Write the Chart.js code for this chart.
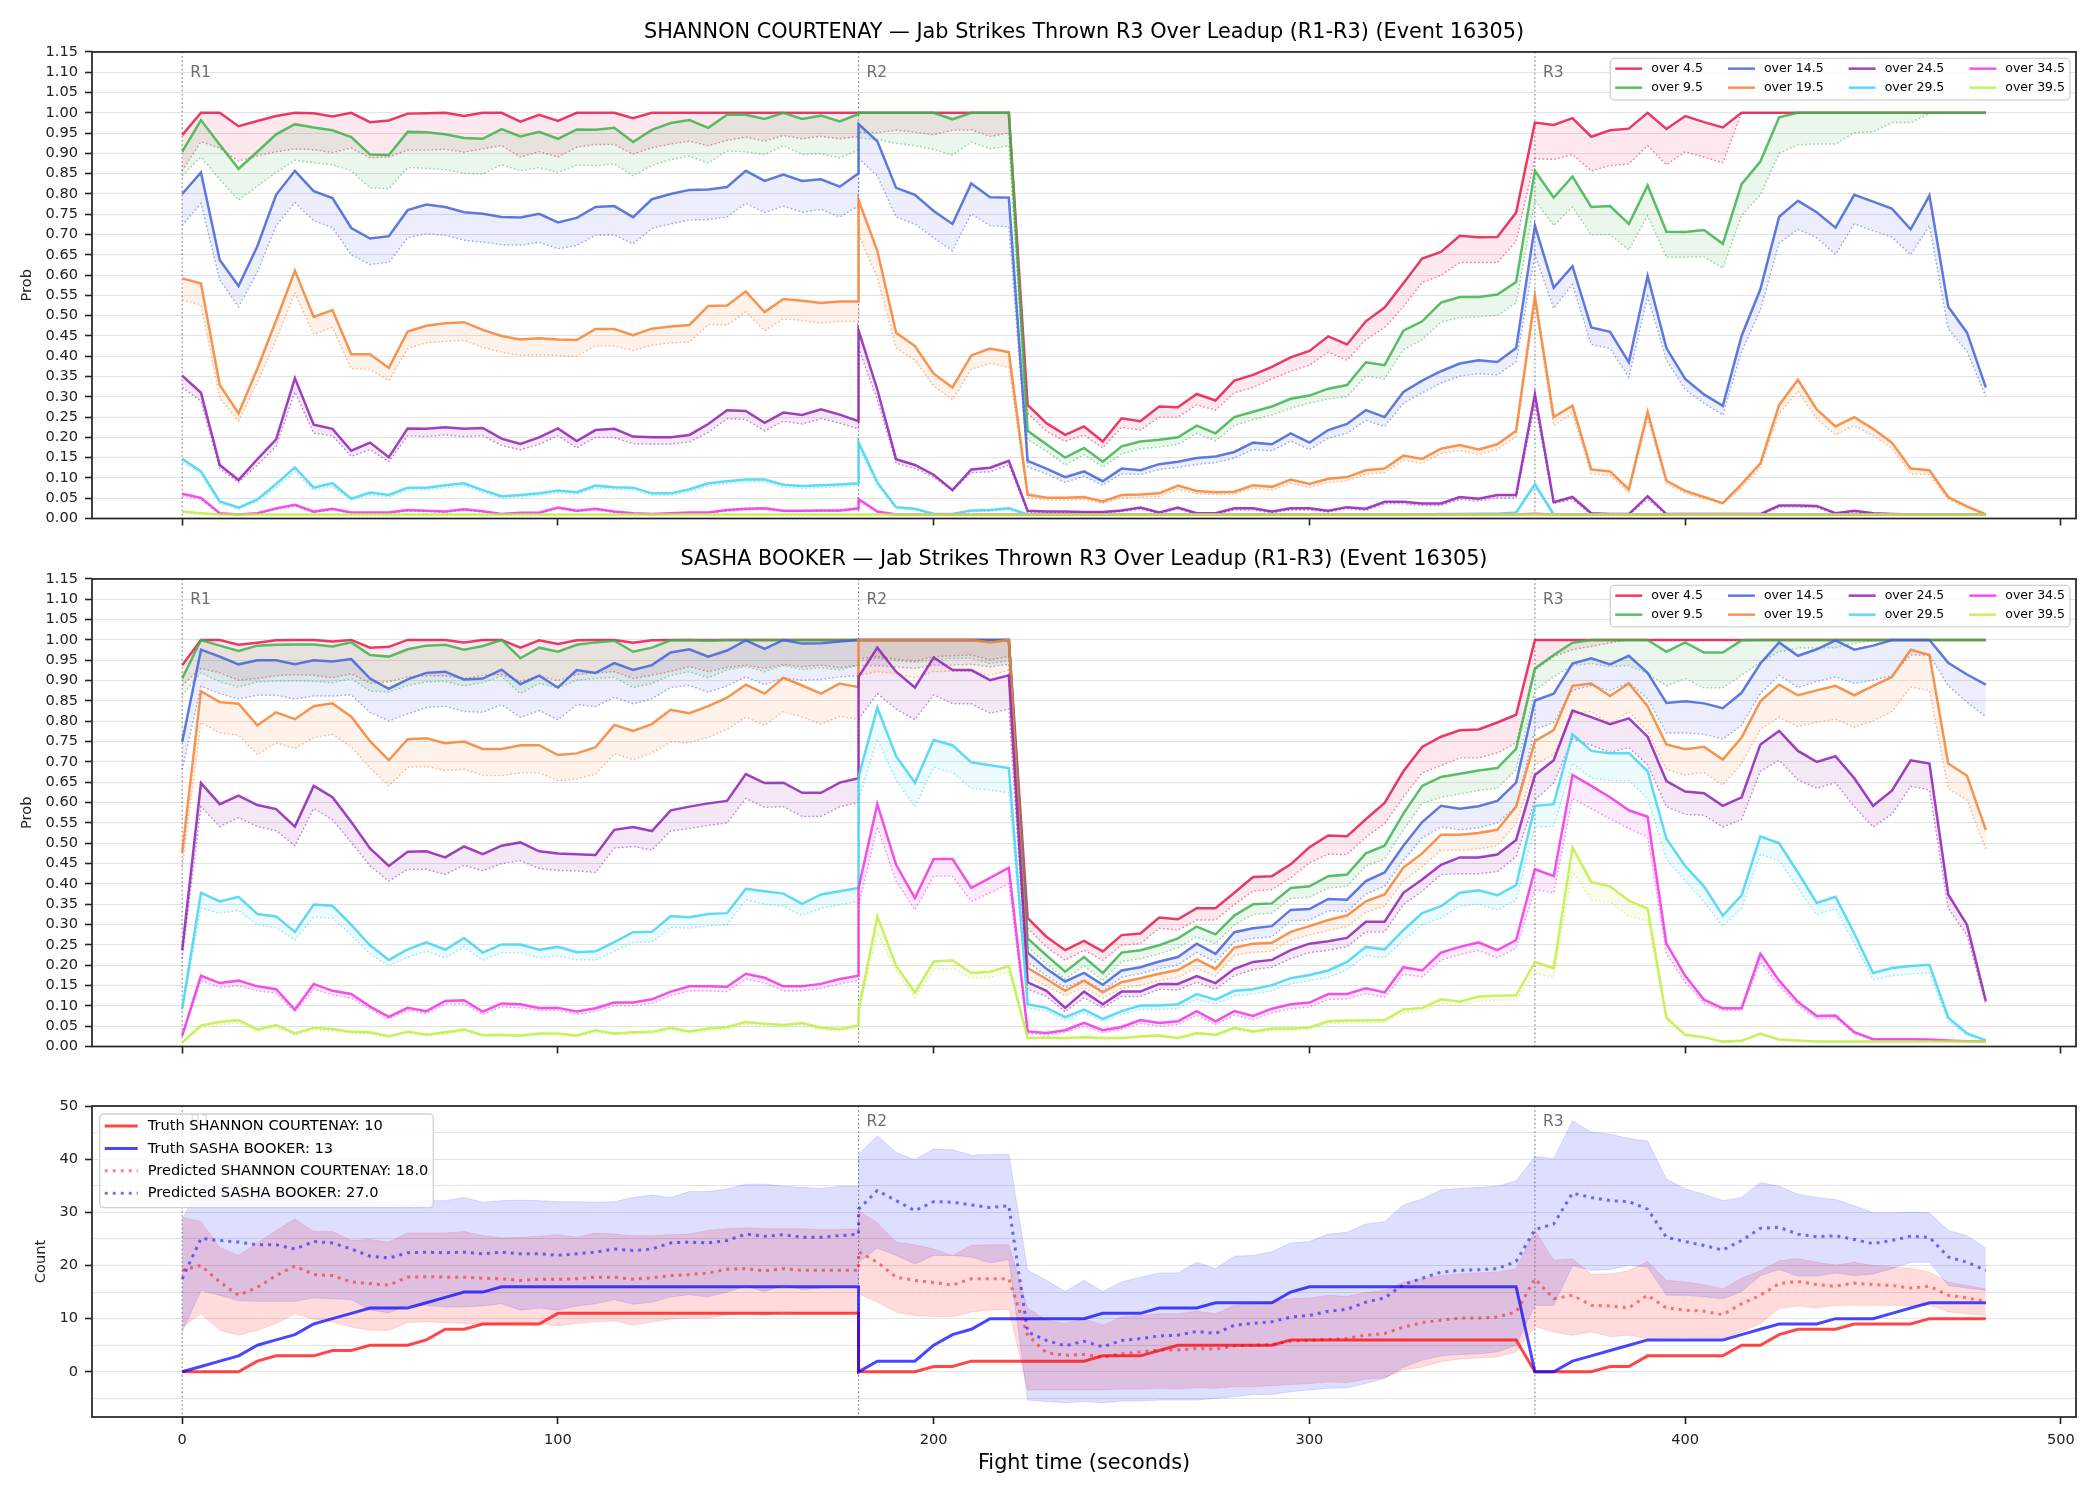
<!DOCTYPE html>
<html>
<head>
<meta charset="utf-8">
<title>Jab Strikes Thrown R3 Over Leadup</title>
<script src="https://cdn.jsdelivr.net/npm/chart.js@4.4.1/dist/chart.umd.min.js"></script>
<style>
  body { margin: 0; background: #fff; }
  canvas { position: absolute; left: 0; }
</style>
</head>
<body>
<canvas id="shannonChart" width="2100" height="541" style="top:0px"></canvas>
<canvas id="sashaChart" width="2100" height="542" style="top:527px"></canvas>
<canvas id="countChart" width="2100" height="410" style="top:1090px"></canvas>
<script>
// fight time in seconds (R1 | R2 | R3, R2 restarts at 180)
const times = [
  0,5,10,15,20,25,30,35,40,45,50,55,60,65,70,75,80,85,90,95,100,105,110,115,120,125,130,135,140,145,150,155,160,165,170,175,180,
  180,185,190,195,200,205,210,215,220,225,230,235,240,245,250,255,260,265,270,275,280,285,290,295,300,305,310,315,320,325,330,335,340,345,350,355,
  360,365,370,375,380,385,390,395,400,405,410,415,420,425,430,435,440,445,450,455,460,465,470,475,480
];
const thresholds = ['over 4.5', 'over 9.5', 'over 14.5', 'over 19.5', 'over 24.5', 'over 29.5', 'over 34.5', 'over 39.5'];
const palette = ['#e6194b', '#3cb44b', '#4363d8', '#f58231', '#911eb4', '#42d4f4', '#f032e6', '#bfef45'];
const roundStarts = [0, 180, 360];
const roundLabels = ['R1', 'R2', 'R3'];
const xTicks = [0, 100, 200, 300, 400, 500];
const probTicks = [0, 0.05, 0.1, 0.15, 0.2, 0.25, 0.3, 0.35, 0.4, 0.45, 0.5, 0.55, 0.6, 0.65, 0.7, 0.75, 0.8, 0.85, 0.9, 0.95, 1, 1.05, 1.1, 1.15];
const countTicks = [-5, 0, 5, 10, 15, 20, 25, 30, 35, 40, 45, 50];

// ---- SHANNON COURTENAY: solid lines and dotted lines
const shO45 = [
  .945,1,1,.967,.98,.992,1,.999,.991,1,.977,.981,.998,.999,1,.992,1,1,.978,.995,.98,1,1,1,.987,1,1,1,1,1,1,1,1,1,1,1,1,
  1,1,1,1,1,1,1,1,1,.28,.235,.206,.227,.19,.247,.24,.276,.274,.307,.291,.34,.354,.374,.397,.413,.449,.429,.486,.52,.58,.641,.657,.697,.693,.694,.754,
  .976,.97,.987,.941,.957,.961,1,.96,.992,.977,.964,1,1,1,1,1,1,1,1,1,1,1,1,1,1
];
const shO45d = [
  .857,.929,.913,.881,.894,.904,.911,.909,.902,.913,.889,.891,.908,.908,.91,.903,.911,.919,.891,.904,.891,.915,.922,.922,.898,.914,.923,.93,.919,.932,.94,.93,.944,.936,.942,.936,.942,
  .952,.951,.957,.952,.946,.957,.958,.942,.95,.26,.215,.19,.206,.174,.225,.218,.25,.25,.28,.267,.31,.323,.344,.363,.378,.41,.39,.441,.471,.522,.582,.599,.631,.631,.631,.683,
  .887,.885,.897,.857,.87,.874,.919,.872,.904,.891,.877,1,1,1,1,1,1,1,1,1,1,1,1,1,1
];
const shO95 = [
  .904,.982,.921,.862,.904,.947,.972,.964,.957,.94,.897,.896,.953,.952,.947,.938,.936,.96,.942,.953,.936,.959,.958,.963,.928,.958,.975,.982,.963,.995,.995,.985,1,.985,.993,.979,.997,
  1,1,1,1,1,.984,1,1,1,.216,.183,.15,.174,.14,.178,.19,.194,.2,.229,.21,.25,.263,.276,.295,.303,.32,.329,.385,.378,.463,.486,.532,.546,.546,.552,.583,
  .857,.791,.843,.768,.77,.726,.821,.707,.706,.711,.677,.824,.88,.989,1,1,1,1,1,1,1,1,1,1,1
];
const shO95d = [
  .845,.891,.836,.785,.819,.853,.883,.877,.872,.857,.815,.813,.865,.863,.86,.851,.849,.872,.857,.865,.853,.871,.87,.874,.845,.87,.885,.893,.876,.906,.904,.897,.919,.897,.899,.889,.908,
  .938,.934,.925,.919,.91,.896,.928,.911,.919,.195,.166,.132,.157,.127,.159,.172,.176,.183,.21,.191,.229,.244,.255,.272,.284,.295,.3,.351,.344,.416,.441,.484,.495,.497,.501,.531,
  .785,.722,.768,.699,.7,.662,.747,.644,.644,.645,.617,.747,.798,.9,.921,.923,.923,.951,.953,.976,.976,.998,1,1,1
];
const shO145 = [
  .8,.853,.637,.573,.671,.798,.857,.807,.79,.716,.69,.696,.76,.774,.768,.755,.751,.743,.742,.751,.73,.741,.768,.77,.743,.787,.8,.81,.811,.817,.857,.832,.848,.832,.836,.818,.851,
  .972,.93,.815,.798,.758,.726,.826,.792,.791,.142,.123,.102,.116,.092,.123,.119,.134,.14,.149,.153,.164,.187,.183,.21,.187,.218,.233,.267,.25,.312,.34,.363,.382,.39,.386,.42,
  .722,.569,.622,.471,.46,.385,.598,.42,.344,.306,.278,.45,.565,.744,.783,.755,.717,.798,.781,.764,.713,.796,.522,.458,.323
];
const shO145d = [
  .722,.777,.588,.522,.607,.722,.779,.734,.717,.65,.626,.631,.692,.702,.698,.686,.681,.675,.674,.681,.665,.673,.698,.699,.677,.715,.726,.736,.737,.743,.777,.754,.77,.755,.762,.743,.77,
  .887,.845,.743,.726,.692,.66,.751,.722,.719,.127,.11,.089,.104,.082,.11,.108,.121,.126,.133,.138,.149,.17,.167,.191,.17,.198,.21,.242,.227,.284,.31,.334,.351,.357,.354,.386,
  .65,.518,.577,.429,.419,.348,.548,.391,.318,.284,.255,.412,.514,.679,.713,.692,.651,.726,.709,.694,.65,.722,.467,.412,.301
];
const shO195 = [
  .592,.579,.329,.259,.369,.488,.611,.497,.514,.405,.405,.371,.461,.475,.481,.484,.465,.45,.441,.444,.441,.44,.467,.467,.452,.468,.473,.477,.524,.525,.56,.509,.541,.537,.531,.535,.535,
  .785,.66,.458,.425,.357,.323,.402,.419,.41,.059,.051,.051,.053,.042,.058,.059,.062,.081,.068,.065,.066,.082,.078,.096,.085,.098,.102,.119,.123,.155,.147,.172,.181,.17,.183,.216,
  .548,.25,.278,.121,.116,.072,.263,.093,.068,.053,.038,.085,.136,.28,.342,.269,.227,.25,.221,.187,.123,.119,.053,.03,.01
];
const shO195d = [
  .539,.526,.297,.24,.335,.441,.556,.454,.471,.369,.368,.34,.419,.433,.437,.439,.422,.41,.402,.403,.402,.4,.426,.425,.414,.427,.433,.435,.478,.477,.509,.463,.492,.488,.482,.486,.486,
  .7,.594,.42,.39,.327,.293,.368,.382,.373,.051,.045,.045,.047,.037,.051,.052,.054,.072,.061,.059,.06,.075,.07,.087,.077,.089,.093,.109,.113,.144,.136,.16,.168,.157,.17,.201,
  .531,.229,.259,.11,.106,.065,.246,.085,.062,.049,.036,.076,.125,.259,.314,.246,.206,.229,.204,.174,.11,.108,.047,.027,.008
];
const shO245 = [
  .352,.31,.132,.095,.146,.195,.346,.231,.221,.167,.187,.151,.222,.221,.225,.221,.223,.197,.184,.2,.222,.191,.218,.221,.202,.2,.2,.206,.233,.267,.265,.236,.261,.255,.269,.256,.24,
  .464,.318,.146,.132,.108,.07,.121,.125,.142,.019,.017,.017,.016,.016,.02,.027,.015,.027,.013,.013,.025,.025,.017,.025,.025,.019,.028,.024,.041,.041,.037,.037,.053,.049,.058,.058,
  .306,.04,.053,.013,.011,.011,.055,.011,.011,.011,.011,.011,.011,.032,.032,.031,.013,.019,.013,.011,.01,.01,.01,.01,.01
];
const shO245d = [
  .323,.289,.123,.089,.132,.178,.312,.21,.204,.153,.17,.14,.204,.202,.206,.202,.204,.18,.169,.183,.204,.174,.2,.2,.184,.183,.183,.189,.212,.246,.244,.216,.24,.233,.246,.235,.221,
  .42,.293,.136,.123,.102,.068,.113,.115,.132,.015,.014,.014,.013,.013,.017,.023,.012,.023,.01,.01,.021,.021,.014,.021,.021,.016,.024,.02,.036,.036,.032,.032,.047,.043,.051,.051,
  .28,.037,.047,.01,.009,.009,.047,.009,.009,.009,.009,.009,.009,.028,.028,.027,.011,.016,.011,.009,.008,.008,.008,.008,.008
];
const shO295 = [
  .147,.116,.042,.027,.047,.085,.126,.076,.087,.049,.064,.058,.076,.076,.082,.087,.07,.055,.058,.062,.069,.065,.081,.077,.076,.062,.062,.072,.087,.092,.096,.096,.083,.08,.082,.084,.087,
  .188,.089,.028,.024,.012,.011,.02,.021,.025,.01,.01,.01,.01,.01,.01,.01,.01,.01,.01,.01,.01,.01,.01,.01,.01,.01,.01,.01,.01,.01,.01,.011,.011,.012,.012,.015,
  .085,.01,.01,.01,.01,.01,.01,.01,.01,.01,.01,.01,.01,.01,.01,.01,.01,.01,.01,.01,.01,.01,.01,.01,.01
];
const shO295d = [
  .138,.11,.038,.023,.042,.076,.115,.07,.079,.045,.058,.053,.07,.07,.076,.081,.064,.05,.053,.057,.063,.059,.075,.071,.07,.057,.057,.066,.081,.086,.09,.09,.077,.074,.076,.078,.081,
  .175,.082,.025,.021,.01,.009,.017,.018,.022,.008,.008,.008,.008,.008,.008,.008,.008,.008,.008,.008,.008,.008,.008,.008,.008,.008,.008,.008,.008,.008,.008,.009,.009,.01,.01,.012,
  .078,.008,.008,.008,.008,.008,.008,.008,.008,.008,.008,.008,.008,.008,.008,.008,.008,.008,.008,.008,.008,.008,.008,.008,.008
];
const shO345 = [
  .061,.051,.013,.01,.013,.025,.034,.017,.024,.015,.015,.015,.021,.019,.017,.023,.018,.011,.014,.014,.027,.019,.024,.017,.013,.011,.013,.015,.015,.021,.024,.025,.019,.019,.02,.02,.025,
  .048,.017,.01,.01,.01,.01,.01,.01,.01,.01,.01,.01,.01,.01,.01,.01,.01,.01,.01,.01,.01,.01,.01,.01,.01,.01,.01,.01,.01,.01,.01,.01,.01,.01,.01,.01,
  .012,.01,.01,.01,.01,.01,.01,.01,.01,.01,.01,.01,.01,.01,.01,.01,.01,.01,.01,.01,.01,.01,.01,.01,.01
];
const shO345d = [
  .055,.047,.011,.008,.011,.022,.03,.015,.021,.013,.013,.013,.018,.017,.015,.02,.016,.009,.012,.012,.024,.017,.021,.015,.011,.009,.011,.013,.013,.018,.021,.022,.017,.017,.018,.018,.022,
  .043,.015,.008,.008,.008,.008,.008,.008,.008,.008,.008,.008,.008,.008,.008,.008,.008,.008,.008,.008,.008,.008,.008,.008,.008,.008,.008,.008,.008,.008,.008,.008,.008,.008,.008,.008,
  .01,.008,.008,.008,.008,.008,.008,.008,.008,.008,.008,.008,.008,.008,.008,.008,.008,.008,.008,.008,.008,.008,.008,.008,.008
];
const shO395 = [
  .017,.013,.01,.01,.01,.01,.01,.01,.01,.01,.01,.01,.01,.01,.01,.01,.01,.01,.01,.01,.01,.01,.01,.01,.01,.01,.01,.01,.01,.01,.01,.01,.01,.01,.01,.01,.01,
  .01,.01,.01,.01,.01,.01,.01,.01,.01,.01,.01,.01,.01,.01,.01,.01,.01,.01,.01,.01,.01,.01,.01,.01,.01,.01,.01,.01,.01,.01,.01,.01,.01,.01,.01,.01,
  .01,.01,.01,.01,.01,.01,.01,.01,.01,.01,.01,.01,.01,.01,.01,.01,.01,.01,.01,.01,.01,.01,.01,.01,.01
];
const shO395d = [
  .014,.011,.008,.008,.008,.008,.008,.008,.008,.008,.008,.008,.008,.008,.008,.008,.008,.008,.008,.008,.008,.008,.008,.008,.008,.008,.008,.008,.008,.008,.008,.008,.008,.008,.008,.008,.008,
  .008,.008,.008,.008,.008,.008,.008,.008,.008,.008,.008,.008,.008,.008,.008,.008,.008,.008,.008,.008,.008,.008,.008,.008,.008,.008,.008,.008,.008,.008,.008,.008,.008,.008,.008,.008,
  .008,.008,.008,.008,.008,.008,.008,.008,.008,.008,.008,.008,.008,.008,.008,.008,.008,.008,.008,.008,.008,.008,.008,.008,.008
];

// ---- SASHA BOOKER: solid lines and dotted lines
const sbO45 = [
  .938,1,1,.988,.993,.999,1,1,.996,1,.981,.983,1,1,1,.994,1,1,.981,.999,.99,.999,1,1,.993,.999,1,1,1,1,1,1,1,1,1,1,1,
  1,1,1,1,1,1,1,1,1,.316,.27,.237,.26,.234,.274,.278,.317,.313,.34,.34,.378,.417,.419,.448,.49,.519,.517,.559,.599,.677,.737,.762,.778,.78,.797,.816,
  1,1,1,1,1,1,1,1,1,1,1,1,1,1,1,1,1,1,1,1,1,1,1,1,1
];
const sbO45d = [
  .888,.93,.919,.901,.905,.912,.915,.913,.907,.917,.893,.897,.909,.912,.912,.905,.913,.915,.898,.911,.9,.915,.919,.922,.905,.913,.923,.934,.922,.932,.938,.93,.94,.934,.938,.932,.938,
  .953,.959,.953,.948,.959,.961,.963,.951,.959,.291,.245,.212,.237,.212,.249,.253,.291,.286,.311,.311,.349,.382,.386,.415,.452,.473,.472,.515,.548,.614,.673,.691,.71,.71,.722,.747,
  .926,.959,.976,.984,.993,1,1,1,1,1,1,1,1,1,1,1,1,1,1,1,1,1,1,1,1
];
const sbO95 = [
  .905,1,.986,.973,.986,.988,.989,.989,.984,.994,.963,.959,.977,.986,.988,.976,.985,1,.955,.981,.971,.988,.994,.998,.971,.981,.999,1,.998,1,1,1,1,1,1,1,1,
  1,1,1,1,1,1,1,1,1,.266,.224,.184,.22,.181,.231,.237,.249,.266,.295,.276,.322,.35,.352,.39,.394,.419,.423,.475,.494,.573,.641,.663,.671,.679,.685,.732,
  .93,.963,.993,1,1,1,1,.971,.994,.969,.969,.999,1,1,1,1,1,1,1,1,1,1,1,1,1
];
const sbO95d = [
  .864,.92,.897,.884,.897,.898,.899,.898,.895,.905,.874,.872,.888,.897,.898,.887,.895,.911,.868,.893,.882,.901,.905,.908,.883,.893,.913,.922,.907,.926,.935,.922,.937,.927,.932,.926,.938,
  .947,.955,.949,.945,.951,.955,.955,.942,.949,.245,.203,.166,.198,.162,.209,.216,.228,.243,.27,.253,.299,.325,.328,.364,.367,.39,.394,.444,.461,.533,.598,.613,.621,.63,.635,.681,
  .876,.909,.937,.942,.934,.937,.917,.887,.905,.882,.882,.913,.945,.971,.98,.98,.981,.992,.997,1,1,1,1,1,1
];
const sbO145 = [
  .749,.976,.959,.94,.95,.95,.94,.95,.947,.953,.905,.88,.903,.919,.922,.903,.905,.927,.891,.912,.883,.926,.919,.943,.926,.938,.969,.977,.959,.974,.999,.978,1,.991,.992,.996,1,
  1,1,1,1,1,1,1,1,1,.231,.191,.16,.181,.152,.187,.195,.209,.22,.253,.228,.281,.291,.296,.336,.338,.363,.361,.407,.428,.494,.552,.592,.585,.591,.604,.649,
  .851,.868,.942,.955,.94,.961,.919,.845,.849,.844,.832,.87,.942,.994,.961,.977,.999,.976,.986,1,1,1,.944,.915,.89
];
const sbO145d = [
  .681,.886,.868,.855,.864,.864,.855,.862,.862,.865,.822,.801,.818,.834,.837,.824,.822,.841,.81,.826,.804,.841,.836,.859,.843,.855,.883,.888,.872,.887,.909,.89,.907,.901,.903,.909,.912,
  .937,.937,.934,.93,.938,.938,.94,.934,.94,.208,.174,.145,.164,.137,.17,.179,.191,.201,.231,.208,.257,.266,.27,.309,.311,.334,.332,.375,.394,.458,.513,.54,.533,.538,.55,.59,
  .78,.797,.876,.888,.876,.895,.855,.771,.771,.768,.756,.79,.868,.913,.883,.898,.909,.893,.901,.913,.963,.963,.887,.847,.811
];
const sbO195 = [
  .477,.874,.847,.843,.79,.822,.805,.837,.844,.811,.751,.704,.756,.758,.746,.75,.732,.732,.741,.741,.717,.721,.736,.791,.776,.793,.828,.82,.837,.858,.89,.868,.907,.888,.868,.893,.884,
  1,1,1,1,1,1,1,.994,1,.193,.166,.137,.162,.133,.158,.168,.179,.188,.214,.191,.243,.253,.255,.282,.296,.311,.322,.357,.374,.44,.475,.521,.521,.525,.533,.59,
  .751,.778,.887,.893,.862,.893,.837,.743,.731,.737,.706,.76,.849,.89,.864,.876,.887,.864,.887,.909,.976,.963,.696,.666,.533
];
const sbO195d = [
  .44,.797,.771,.766,.718,.747,.733,.76,.768,.737,.685,.641,.687,.689,.679,.682,.667,.666,.673,.673,.654,.658,.67,.72,.706,.722,.749,.747,.761,.78,.81,.79,.824,.81,.793,.812,.805,
  .913,.922,.917,.907,.922,.923,.923,.913,.926,.174,.149,.125,.145,.119,.143,.151,.162,.17,.193,.173,.224,.232,.234,.262,.274,.286,.295,.33,.345,.407,.442,.483,.483,.486,.494,.548,
  .693,.718,.818,.824,.793,.824,.774,.681,.668,.674,.643,.696,.78,.81,.787,.797,.805,.785,.801,.824,.884,.876,.635,.606,.486
];
const sbO245 = [
  .237,.648,.596,.617,.594,.584,.541,.641,.613,.552,.487,.444,.479,.48,.465,.492,.473,.494,.502,.48,.475,.473,.471,.533,.54,.53,.581,.59,.598,.604,.67,.648,.649,.624,.624,.649,.66,
  .909,.981,.922,.883,.957,.926,.926,.901,.913,.158,.137,.095,.135,.104,.135,.135,.154,.154,.173,.156,.191,.208,.213,.237,.253,.259,.267,.307,.307,.378,.411,.447,.465,.465,.472,.508,
  .668,.704,.826,.81,.793,.807,.762,.653,.627,.623,.592,.613,.743,.776,.727,.7,.714,.66,.592,.629,.704,.696,.374,.299,.112
];
const sbO245d = [
  .216,.59,.541,.563,.541,.531,.494,.585,.558,.502,.444,.407,.436,.436,.423,.446,.432,.45,.457,.438,.433,.432,.428,.488,.492,.483,.53,.536,.544,.55,.61,.588,.59,.566,.566,.59,.6,
  .805,.868,.83,.804,.865,.843,.843,.82,.83,.141,.123,.085,.12,.095,.123,.123,.141,.139,.158,.141,.174,.189,.195,.216,.231,.237,.245,.282,.282,.349,.382,.423,.425,.425,.43,.467,
  .606,.648,.756,.741,.724,.735,.693,.59,.571,.569,.54,.558,.677,.704,.656,.635,.649,.59,.54,.571,.64,.631,.34,.274,.104
];
const sbO295 = [
  .093,.378,.357,.368,.326,.32,.282,.349,.346,.299,.249,.213,.239,.256,.238,.267,.231,.251,.251,.238,.245,.232,.234,.257,.281,.282,.321,.318,.326,.328,.388,.382,.376,.351,.374,.382,.39,
  .664,.833,.714,.649,.754,.741,.699,.692,.685,.104,.095,.072,.091,.068,.087,.101,.101,.104,.129,.115,.137,.141,.151,.168,.176,.187,.208,.245,.239,.286,.328,.345,.378,.384,.372,.397,
  .592,.596,.768,.727,.721,.722,.677,.511,.444,.394,.322,.372,.517,.5,.428,.353,.368,.278,.181,.193,.198,.201,.071,.032,.015
];
const sbO295d = [
  .087,.34,.328,.335,.299,.292,.262,.318,.316,.274,.228,.198,.22,.234,.218,.245,.212,.231,.231,.218,.223,.213,.213,.234,.256,.257,.293,.291,.297,.299,.361,.35,.345,.322,.34,.349,.357,
  .606,.756,.654,.59,.687,.674,.635,.631,.624,.095,.087,.065,.083,.062,.079,.091,.091,.093,.116,.104,.125,.129,.137,.154,.162,.17,.189,.224,.218,.262,.299,.316,.345,.35,.336,.361,
  .54,.541,.697,.66,.654,.654,.61,.461,.407,.357,.295,.34,.473,.457,.39,.324,.339,.253,.164,.174,.179,.181,.062,.029,.014
];
const sbO345 = [
  .027,.174,.156,.162,.148,.141,.091,.154,.137,.129,.098,.073,.095,.087,.112,.114,.086,.106,.104,.095,.095,.086,.094,.108,.108,.116,.135,.148,.148,.147,.179,.169,.148,.148,.154,.166,.174,
  .39,.596,.447,.365,.461,.461,.39,.415,.44,.037,.033,.04,.058,.04,.048,.065,.058,.062,.087,.062,.087,.075,.093,.104,.108,.129,.129,.143,.133,.195,.187,.231,.245,.256,.237,.262,
  .436,.419,.668,.641,.613,.581,.565,.253,.174,.115,.094,.094,.228,.162,.11,.075,.076,.035,.018,.018,.018,.017,.015,.013,.012
];
const sbO345d = [
  .023,.162,.145,.149,.137,.131,.085,.141,.127,.119,.091,.068,.089,.081,.104,.105,.079,.098,.095,.089,.089,.079,.087,.1,.1,.106,.125,.137,.137,.135,.166,.156,.137,.137,.143,.154,.162,
  .345,.54,.407,.336,.419,.419,.357,.378,.4,.032,.028,.035,.05,.034,.042,.057,.05,.054,.077,.054,.077,.066,.083,.093,.097,.116,.117,.13,.121,.178,.171,.212,.226,.236,.218,.242,
  .386,.378,.61,.585,.56,.536,.515,.228,.158,.106,.089,.089,.208,.149,.101,.068,.07,.032,.016,.016,.016,.015,.013,.012,.011
];
const sbO395 = [
  .01,.052,.06,.065,.042,.053,.032,.046,.043,.036,.035,.025,.037,.029,.035,.042,.028,.029,.027,.032,.032,.027,.04,.032,.035,.036,.046,.037,.044,.048,.06,.056,.053,.058,.046,.043,.052,
  .09,.32,.199,.133,.209,.212,.181,.184,.198,.021,.022,.021,.023,.021,.021,.025,.027,.021,.033,.029,.046,.037,.044,.044,.047,.062,.064,.064,.065,.091,.095,.116,.11,.123,.125,.126,
  .208,.193,.49,.405,.394,.359,.339,.071,.029,.023,.012,.014,.032,.017,.015,.012,.012,.012,.012,.012,.012,.012,.012,.012,.012
];
const sbO395d = [
  .008,.046,.053,.058,.037,.047,.028,.041,.038,.032,.031,.022,.033,.026,.031,.037,.025,.026,.024,.028,.028,.024,.035,.028,.031,.032,.041,.033,.039,.043,.054,.05,.047,.052,.041,.038,.046,
  .08,.28,.185,.12,.19,.192,.168,.17,.183,.019,.02,.019,.021,.019,.019,.022,.024,.019,.029,.026,.041,.033,.039,.039,.042,.056,.058,.058,.059,.083,.087,.106,.1,.112,.114,.115,
  .18,.17,.43,.36,.355,.32,.31,.065,.027,.021,.011,.013,.029,.015,.013,.011,.011,.011,.011,.011,.011,.011,.011,.011,.011
];

// ---- strike counts
const truthShannon = [
  0,0,0,0,2,3,3,3,4,4,5,5,5,6,8,8,9,9,9,9,11,11,11,11,11,11,11,11,11,11,11,11,11,11,11,11,11,
  0,0,0,0,1,1,2,2,2,2,2,2,2,3,3,3,4,5,5,5,5,5,5,6,6,6,6,6,6,6,6,6,6,6,6,6,
  0,0,0,0,1,1,3,3,3,3,3,5,5,7,8,8,8,9,9,9,9,10,10,10,10
];
const truthSasha = [
  0,1,2,3,5,6,7,9,10,11,12,12,12,13,14,15,15,16,16,16,16,16,16,16,16,16,16,16,16,16,16,16,16,16,16,16,16,
  0,2,2,2,5,7,8,10,10,10,10,10,10,11,11,11,12,12,12,13,13,13,13,15,16,16,16,16,16,16,16,16,16,16,16,16,
  0,0,2,3,4,5,6,6,6,6,6,7,8,9,9,9,10,10,10,11,12,13,13,13,13
];
const predShannon = [
  19.1,20,16.9,14.4,15.9,18.1,19.9,18.3,18.1,16.9,16.6,16.3,17.8,17.9,17.8,17.8,17.6,17.5,17.2,17.4,17.4,17.5,17.8,17.8,17.4,17.7,18.1,18.3,18.6,19.3,19.4,19,19.4,19.1,19.1,19.1,19.1,
  22.6,20.6,17.8,17.2,16.8,16.3,17.5,17.5,17.5,6.9,3.6,3.1,3.25,2.8,3.4,3.75,4.1,4.1,4.4,4.25,4.9,5,5.1,5.75,5.9,6.1,6.25,6.9,7.2,8.4,9.25,9.7,10.1,10.1,10.3,11.25,
  17.5,13.75,14.4,12.5,12.4,12,14.4,12,11.6,11.4,10.75,12.8,14.4,16.6,17,16.4,16.1,16.7,16.4,16.25,15.75,16.1,14.4,13.9,13.25
];
const predSasha = [
  17.5,25.1,24.7,24.4,23.9,23.9,23.1,24.5,24.25,23.1,21.75,21.4,22.4,22.5,22.4,22.5,22.2,22.5,22.2,22.2,21.9,22.2,22.5,23.1,22.8,23.1,24.25,24.4,24.25,24.7,25.9,25.5,25.8,25.3,25.3,25.6,25.9,
  30.6,34.1,32.2,30.3,32,31.9,31.4,30.9,31.25,7.5,5.9,4.9,5.75,4.7,5.9,6.25,6.75,6.9,7.6,7.2,8.75,9.1,9.4,10.3,10.6,11.4,11.75,13.1,13.9,16.4,17.6,18.75,19.1,19.2,19.4,20.75,
  26.75,27.8,33.6,32.8,32.2,32,30.6,25.3,24.5,23.75,22.9,24.7,27,27.2,25.9,25.4,25.6,24.9,24.1,24.7,25.5,25.3,21.6,20.6,19.1
];
const shannonHigh = [
  29.1,28.25,23.4,21.9,24.25,26.6,28.75,26.4,26.4,24.7,24.9,24.4,26.1,26.1,26.1,26.4,25.6,25.2,25.3,25.5,25.8,25.3,26.1,25.9,25.6,25.6,25.8,25.9,26.6,26.9,27.1,26.9,26.9,26.9,26.7,26.75,26.9,
  30.3,28,24.4,23.9,23.1,21.9,23.75,23.9,23.9,12,9.7,9.1,10,8.75,10.3,10.6,10.9,10.9,11.4,10.9,12.5,12.8,13.1,13.75,13.9,14.4,14.2,14.9,15.3,16.9,17.5,18.1,18.4,18.6,18.75,19.4,
  26.6,21,21.25,18.4,18.4,19,20.75,17.2,16.9,16.4,15.6,17.6,19,20.9,21.25,20.6,20.1,20.6,20,19.7,19.5,18.75,16.9,16.25,15.6
];
const shannonLow = [
  8.4,10.9,7.8,6.9,7.8,9.1,10.9,9.9,9.4,8.4,7.8,7.8,9.25,9.4,9.25,9.1,8.9,9.1,9.25,9.1,8.6,9.1,9.4,9.6,8.75,9.4,9.9,10.1,10.1,10.75,10.9,10.6,11.4,10.9,10.9,10.9,11.25,
  14.7,13.1,11.25,10.6,10.4,10.3,11.25,11.6,11.75,-3.4,-3.4,-3.4,-3.4,-3.4,-3.25,-3.25,-3.1,-3.2,-3,-3.1,-2.8,-2.8,-2.6,-2.4,-2.2,-1.9,-2,-1.4,-1.1,0.3,0.9,1.9,2.4,2.6,2.8,3.75,
  8.5,7.5,6.9,7.5,6.6,6.9,6.25,6.4,6.4,6.4,6.4,7.5,9.1,11.9,12.4,12,12.5,12.5,12.5,12.5,12.4,12.5,11.25,10.9,10.6
];
const sashaHigh = [
  28.75,35.3,35.3,34.7,34.4,34.2,34,33.5,33,32.5,32,31.6,31.25,32.2,32.2,32.8,31.9,32.2,32.3,32.2,32,32,31.9,32,32.8,33.25,32.8,33.9,33.9,34.4,35.3,35.3,34.9,34.7,34.5,34.9,34.9,
  40.9,44.4,41.25,39.9,41.9,41.75,40.75,40.9,40.9,19.1,17.2,15.1,17.2,15.1,16.9,17.8,18.6,18.6,20.6,19.4,21.75,21.9,22.6,24.25,24.5,25.9,26.25,27.8,28.25,31.4,32.5,34.25,34.5,34.7,34.9,35.9,
  40.5,40.1,47.2,45.1,44.7,43.9,43.4,36.25,34.4,33.4,32.2,32.8,35.6,34.9,33.4,32.8,32.4,31.25,29.9,29.9,30,29.9,26.6,25.6,23.25
];
const sashaLow = [
  7.5,15.3,14.4,13.4,13.25,13.25,13.25,13.9,13.75,13.6,11.6,11.1,12.5,12.5,12.2,12.2,12.4,12.8,11.6,12,11.6,12.4,12.8,13.6,12.7,13.1,14.1,14.5,14.1,15,16.1,15.1,16.25,15.5,15.75,15.9,15.9,
  20.6,23.25,21.9,20.3,21.9,21.9,21.6,20.5,21.1,-5.3,-5.6,-5.8,-5.6,-5.8,-5.5,-5.5,-5.3,-5.3,-5.3,-5,-4.7,-4.25,-4.25,-3.75,-3.4,-3.1,-3,-2.2,-1.25,0.9,2.2,3,3.25,3.4,3.75,5,
  12.5,12.5,20,19.1,19.25,20,19.7,14.4,14.4,14.1,13.75,15.1,18.1,19.25,18,18,18.6,18.1,18.4,19.4,20.6,20.6,16.25,15.75,15.3
];

const shannonSolid = [shO45, shO95, shO145, shO195, shO245, shO295, shO345, shO395];
const shannonDotted = [shO45d, shO95d, shO145d, shO195d, shO245d, shO295d, shO345d, shO395d];
const sashaSolid = [sbO45, sbO95, sbO145, sbO195, sbO245, sbO295, sbO345, sbO395];
const sashaDotted = [sbO45d, sbO95d, sbO145d, sbO195d, sbO245d, sbO295d, sbO345d, sbO395d];

[...shannonSolid, ...shannonDotted, ...sashaSolid, ...sashaDotted,
 truthShannon, truthSasha, predShannon, predSasha, shannonHigh, shannonLow, sashaHigh, sashaLow].forEach((a, i) => {
  if (a.length !== times.length) throw new Error('series ' + i + ' has ' + a.length + ' values');
});

const FONT = "'DejaVu Sans', sans-serif";
Chart.defaults.font.family = FONT;
Chart.defaults.color = '#222';

function rgba(hex, a) {
  const n = parseInt(hex.slice(1), 16);
  return `rgba(${(n >> 16) & 255},${(n >> 8) & 255},${n & 255},${a})`;
}
function pts(vals) {
  return times.map((t, i) => ({x: t, y: vals[i]}));
}

// round markers, frame and legend box drawn on top of the library output
const decor = {
  id: 'decor',
  beforeDatasetsDraw(chart, args, opts) {
    const {ctx, chartArea: a, scales: {x}} = chart;
    ctx.save();
    roundStarts.forEach((t, i) => {
      const px = x.getPixelForValue(t);
      ctx.strokeStyle = 'rgba(0,0,0,0.5)';
      ctx.lineWidth = 1.1;
      ctx.setLineDash([1.6, 2.6]);
      ctx.beginPath();
      ctx.moveTo(px, a.top);
      ctx.lineTo(px, a.bottom);
      ctx.stroke();
      ctx.setLineDash([]);
      ctx.fillStyle = '#6e6e6e';
      ctx.font = '15.5px ' + FONT;
      ctx.textAlign = 'left';
      ctx.textBaseline = 'middle';
      ctx.fillText(roundLabels[i], px + 8, a.top + opts.labelOffset);
    });
    ctx.restore();
  },
  afterDraw(chart, args, opts) {
    const {ctx, chartArea: a} = chart;
    ctx.save();
    ctx.strokeStyle = '#222';
    ctx.lineWidth = 1.7;
    ctx.strokeRect(a.left, a.top, a.right - a.left, a.bottom - a.top);

    const L = opts.legend;
    const items = chart.data.datasets.filter(d => d.inLegend);
    ctx.font = L.fontSize + 'px ' + FONT;
    const cols = [];
    items.forEach((d, k) => {
      const c = Math.floor(k / L.rows);
      cols[c] = Math.max(cols[c] || 0, ctx.measureText(d.label).width);
    });
    const colW = cols.map(w => L.handle + L.gap + w);
    const innerW = colW.reduce((s, w) => s + w, 0) + L.colSpacing * (cols.length - 1);
    const boxW = innerW + 2 * L.pad;
    const boxH = L.padTop + (L.rows - 1) * L.rowGap + L.padBottom;
    const left = L.anchor === 'right' ? a.right - L.dx - boxW : a.left + L.dx;
    const top = a.top + L.dy;
    ctx.fillStyle = 'rgba(255,255,255,0.8)';
    ctx.strokeStyle = 'rgba(204,204,204,0.9)';
    ctx.lineWidth = 1.3;
    ctx.beginPath();
    ctx.roundRect(left, top, boxW, boxH, 4);
    ctx.fill();
    ctx.stroke();
    items.forEach((d, k) => {
      const c = Math.floor(k / L.rows), r = k % L.rows;
      let x0 = left + L.pad;
      for (let j = 0; j < c; j++) x0 += colW[j] + L.colSpacing;
      const y = top + L.padTop + r * L.rowGap;
      ctx.strokeStyle = d.borderColor;
      ctx.lineWidth = d.borderWidth;
      ctx.setLineDash(d.borderDash || []);
      ctx.beginPath();
      ctx.moveTo(x0, y);
      ctx.lineTo(x0 + L.handle, y);
      ctx.stroke();
      ctx.setLineDash([]);
      ctx.fillStyle = '#000';
      ctx.textAlign = 'left';
      ctx.textBaseline = 'middle';
      ctx.fillText(d.label, x0 + L.handle + L.gap, y + 0.5);
    });
    ctx.restore();
  }
};

function probDatasets(solid, dotted) {
  const out = [];
  thresholds.forEach((name, k) => {
    out.push({
      label: name, inLegend: true, data: pts(solid[k]),
      borderColor: rgba(palette[k], 0.85), backgroundColor: rgba(palette[k], 0.1),
      borderWidth: 2.5, pointRadius: 0, fill: '+1', order: 40 - 2 * k
    });
    out.push({
      label: name + ' (dotted)', data: pts(dotted[k]),
      borderColor: rgba(palette[k], 0.55), borderWidth: 1.4, borderDash: [1.6, 2.4],
      pointRadius: 0, fill: false, order: 39 - 2 * k
    });
  });
  return out;
}

function xScale(showLabels, height, title) {
  return {
    type: 'linear', min: -24, max: 504,
    afterBuildTicks: s => { s.ticks = xTicks.map(v => ({value: v})); },
    afterFit: s => { s.height = height; },
    grid: { drawOnChartArea: false, color: 'rgba(0,0,0,0)', tickColor: '#222', tickLength: 7, tickWidth: 1.6 },
    border: { display: false },
    ticks: { display: showLabels, autoSkip: false, padding: 7, font: { size: 14.6 }, color: '#222', maxRotation: 0 },
    title: title
  };
}

function probOptions(titleText) {
  return {
    responsive: false, animation: false, devicePixelRatio: 1,
    layout: { padding: { left: 0, right: 24, top: 0, bottom: 0 } },
    plugins: {
      legend: { display: false },
      tooltip: { enabled: false },
      title: {
        display: true, fullSize: false, text: titleText, color: '#000',
        font: { size: 20.8, weight: 'normal' }, padding: { top: 20, bottom: 7 }
      },
      decor: {
        labelOffset: 21,
        legend: { anchor: 'right', dx: 6, dy: 6.5, rows: 2, fontSize: 12.5, handle: 27, gap: 9,
                  colSpacing: 25, pad: 5, padTop: 10.2, rowGap: 19, padBottom: 12.3 }
      }
    },
    scales: {
      x: xScale(false, 22.5, { display: false }),
      y: {
        min: 0, max: 1.15,
        afterBuildTicks: s => { s.ticks = probTicks.map(v => ({value: v})); },
        afterFit: s => { s.width = 92; },
        grid: { color: '#e3e3e3', lineWidth: 1, tickColor: '#222', tickLength: 7, tickWidth: 1.6 },
        border: { display: false },
        ticks: { autoSkip: false, padding: 7, font: { size: 14.6 }, color: '#222', callback: v => v.toFixed(2) },
        title: { display: true, text: 'Prob', color: '#222', font: { size: 14.6 }, padding: { top: 18.7, bottom: 0 } }
      }
    }
  };
}

new Chart(document.getElementById('shannonChart'), {
  type: 'line',
  data: { datasets: probDatasets(shannonSolid, shannonDotted) },
  options: probOptions('SHANNON COURTENAY \u2014 Jab Strikes Thrown R3 Over Leadup (R1-R3) (Event 16305)'),
  plugins: [decor]
});

new Chart(document.getElementById('sashaChart'), {
  type: 'line',
  data: { datasets: probDatasets(sashaSolid, sashaDotted) },
  options: probOptions('SASHA BOOKER \u2014 Jab Strikes Thrown R3 Over Leadup (R1-R3) (Event 16305)'),
  plugins: [decor]
});

const RED = '#ff0000', BLUE = '#0000ff';
new Chart(document.getElementById('countChart'), {
  type: 'line',
  data: {
    datasets: [
      { label: 'band SC high', data: pts(shannonHigh), borderColor: rgba(RED, 0.12), backgroundColor: rgba(RED, 0.14),
        borderWidth: 1, pointRadius: 0, fill: '+1', order: 20 },
      { label: 'band SC low', data: pts(shannonLow), borderColor: rgba(RED, 0.12), borderWidth: 1, pointRadius: 0, fill: false, order: 19 },
      { label: 'band SB high', data: pts(sashaHigh), borderColor: rgba(BLUE, 0.12), backgroundColor: rgba(BLUE, 0.13),
        borderWidth: 1, pointRadius: 0, fill: '+1', order: 18 },
      { label: 'band SB low', data: pts(sashaLow), borderColor: rgba(BLUE, 0.12), borderWidth: 1, pointRadius: 0, fill: false, order: 17 },
      { label: 'Truth SHANNON COURTENAY: 10', inLegend: true, data: pts(truthShannon), borderColor: rgba(RED, 0.72),
        borderWidth: 3, pointRadius: 0, fill: false, order: 4 },
      { label: 'Truth SASHA BOOKER: 13', inLegend: true, data: pts(truthSasha), borderColor: rgba(BLUE, 0.72),
        borderWidth: 3, pointRadius: 0, fill: false, order: 3 },
      { label: 'Predicted SHANNON COURTENAY: 18.0', inLegend: true, data: pts(predShannon), borderColor: rgba(RED, 0.5),
        borderWidth: 3, borderDash: [3, 5], pointRadius: 0, fill: false, order: 2 },
      { label: 'Predicted SASHA BOOKER: 27.0', inLegend: true, data: pts(predSasha), borderColor: rgba(BLUE, 0.55),
        borderWidth: 3, borderDash: [3, 5], pointRadius: 0, fill: false, order: 1 }
    ]
  },
  options: {
    responsive: false, animation: false, devicePixelRatio: 1,
    layout: { padding: { left: 0, right: 24, top: 16, bottom: 0 } },
    plugins: {
      legend: { display: false },
      tooltip: { enabled: false },
      decor: {
        labelOffset: 16,
        legend: { anchor: 'left', dx: 7.7, dy: 8, rows: 4, fontSize: 14.6, handle: 33, gap: 10,
                  colSpacing: 0, pad: 5, padTop: 12, rowGap: 22.4, padBottom: 14.4 }
      }
    },
    scales: {
      x: xScale(true, 83, { display: true, text: 'Fight time (seconds)', color: '#000',
                            font: { size: 20.8 }, padding: { top: 0, bottom: 23.5 } }),
      y: {
        min: -8.5, max: 50,
        afterBuildTicks: s => { s.ticks = countTicks.map(v => ({value: v})); },
        afterFit: s => { s.width = 92; },
        grid: { color: '#e3e3e3', lineWidth: 1, tickLength: 7, tickWidth: 1.6,
                tickColor: c => (c.tick && c.tick.value % 10 === 0) ? '#222' : 'rgba(0,0,0,0)' },
        border: { display: false },
        ticks: { autoSkip: false, padding: 7, font: { size: 14.6 }, color: '#222', callback: v => (v % 10 === 0 ? String(v) : '') },
        title: { display: true, text: 'Count', color: '#222', font: { size: 14.6 }, padding: { top: 32, bottom: 0 } }
      }
    }
  },
  plugins: [decor]
});
</script>
</body>
</html>
